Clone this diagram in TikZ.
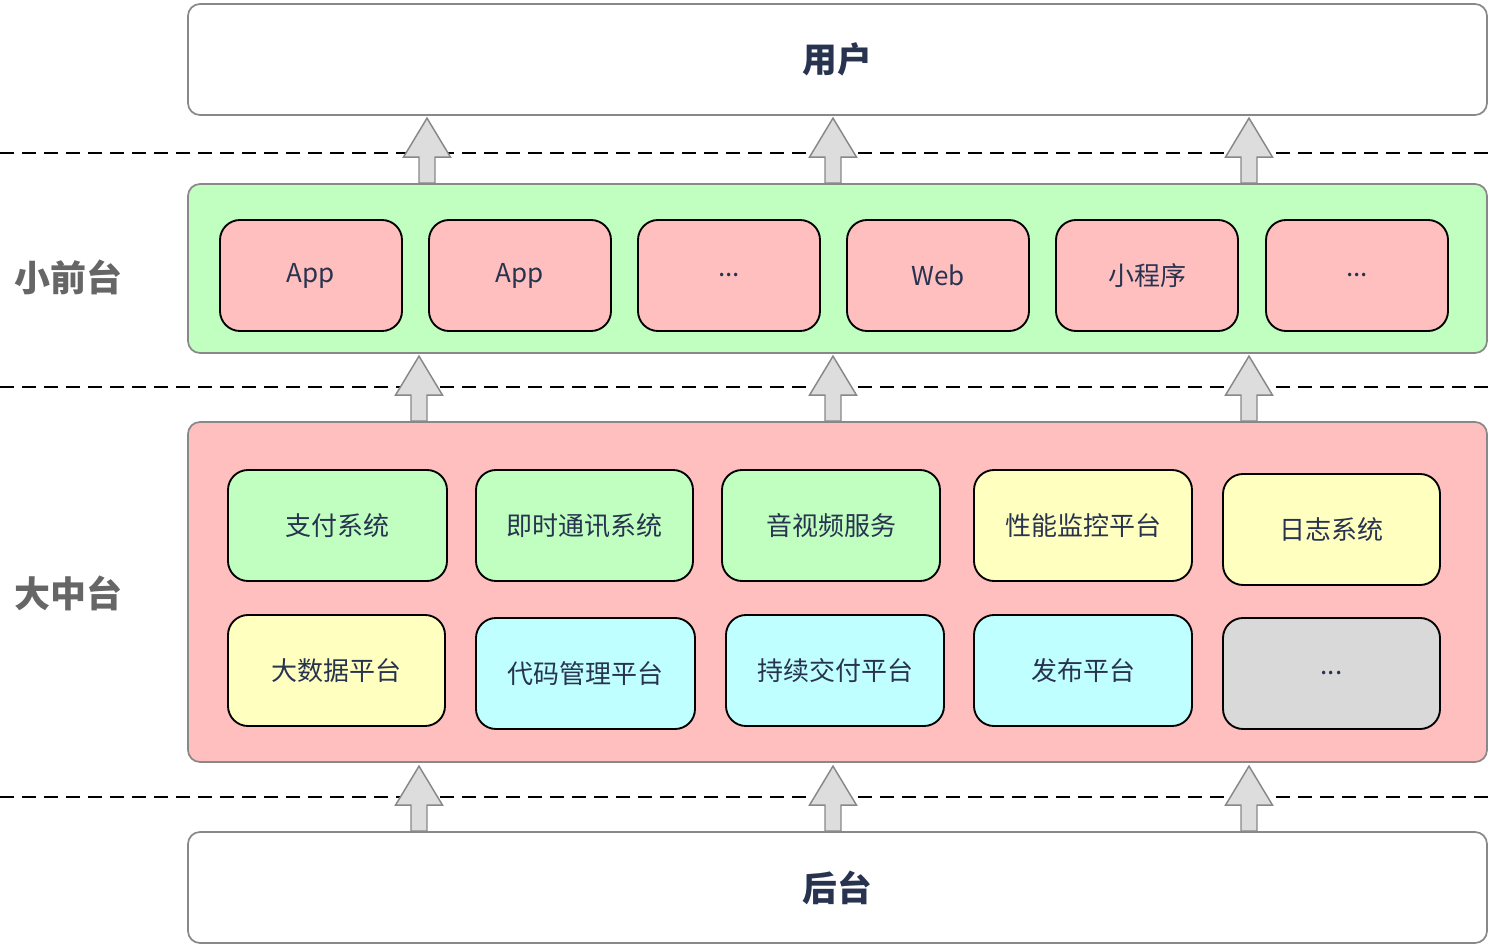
\documentclass[tikz,border=0pt]{standalone}
\usepackage{fontspec}
\setmainfont{Noto Sans CJK SC}
\usepackage{tikz}
\usetikzlibrary{positioning}

\definecolor{txtnavy}{RGB}{40,51,80}
\definecolor{boxgreen}{RGB}{192,255,192}
\definecolor{boxpink}{RGB}{255,191,191}
\definecolor{boxcyan}{RGB}{192,255,255}
\definecolor{boxyellow}{RGB}{255,255,192}
\definecolor{boxgray}{RGB}{217,217,217}
\definecolor{rimgray}{RGB}{136,136,136}
\definecolor{arrgray}{RGB}{221,221,221}

\begin{document}
\begin{tikzpicture}[x=0.75pt,y=0.75pt,yscale=-1,xscale=1,
    layer/.style={draw=rimgray,line width=1.3pt,rounded corners=9pt,minimum width=974.25pt,inner sep=0pt,text=txtnavy,font=\fontsize{26}{30}\selectfont\bfseries},
    item/.style={draw=black,line width=1.4pt,rounded corners=15pt,minimum height=83.25pt,inner sep=0pt,text=txtnavy,font=\fontsize{19.5}{23}\selectfont},
    sideLabel/.style={text=black!60,font=\fontsize{27}{31}\selectfont\bfseries,inner sep=0pt},
    sepline/.style={dashed,dash pattern=on 10.5pt off 6pt,line width=1.1pt},
    pics/uparr/.style={code={
        \draw[draw=rimgray,fill=arrgray,line width=1.1pt,line join=miter]
          (-8,0) -- (-8,26) -- (-23.5,26) -- (0,65) -- (23.5,26) -- (8,26) -- (8,0) -- cycle;
    }}]
    \useasboundingbox (0,0) rectangle (1489,945);

    %Shape: Layers
    \node[layer,fill=white,minimum height=83.25pt] (user) at (837.5,59.5) {用户};
    \node[layer,fill=boxgreen,minimum height=126.75pt] (front) at (837.5,268.5) {};
    \node[layer,fill=boxpink,minimum height=255pt] (middle) at (837.5,592) {};
    \node[layer,fill=white,minimum height=83.25pt] (back) at (837.5,887.5) {后台};

    % Text Node
    \node[sideLabel] (lblfront) at (68,277) {小前台};
    % Text Node
    \node[sideLabel] (lblmiddle) at (68,593) {大中台};

    %Shape: Front items
    \node[item,fill=boxpink,minimum width=136.5pt] (app1) at (311,275.5) {App};
    \node[item,fill=boxpink,minimum width=136.5pt] (app2) at (520,275.5) {App};
    \node[item,fill=boxpink,minimum width=136.5pt] (dots1) at (729,275.5) {...};
    \node[item,fill=boxpink,minimum width=136.5pt] (web) at (938,275.5) {Web};
    \node[item,fill=boxpink,minimum width=136.5pt] (mini) at (1147,275.5) {小程序};
    \node[item,fill=boxpink,minimum width=136.5pt] (dots2) at (1357,275.5) {...};

    %Shape: Middle items
    \node[item,fill=boxgreen,minimum width=164.25pt] (pay) at (337.5,525.5) {支付系统};
    \node[item,fill=boxgreen,minimum width=162.75pt] (im) at (584.5,525.5) {即时通讯系统};
    \node[item,fill=boxgreen,minimum width=163.5pt] (av) at (831,525.5) {音视频服务};
    \node[item,fill=boxyellow,minimum width=163.5pt] (perf) at (1083,525.5) {性能监控平台};
    \node[item,fill=boxyellow,minimum width=162.75pt] (log) at (1331.5,529.5) {日志系统};
    \node[item,fill=boxyellow,minimum width=162.75pt] (bigdata) at (336.5,670.5) {大数据平台};
    \node[item,fill=boxcyan,minimum width=164.25pt] (code) at (585.5,673.5) {代码管理平台};
    \node[item,fill=boxcyan,minimum width=163.5pt] (cd) at (835,670.5) {持续交付平台};
    \node[item,fill=boxcyan,minimum width=163.5pt] (release) at (1083,670.5) {发布平台};
    \node[item,fill=boxgray,minimum width=162.75pt] (dots3) at (1331.5,673.5) {...};

    %Straight Lines
    \draw[sepline] (0,153) -- (1489,153);
    \draw[sepline] (0,387) -- (1489,387);
    \draw[sepline] (0,797) -- (1489,797);

    %Shape: Up arrows
    \pic at (front.north -| 427,0) {uparr};
    \pic at (front.north -| 833,0) {uparr};
    \pic at (front.north -| 1249,0) {uparr};
    \pic at (middle.north -| 419,0) {uparr};
    \pic at (middle.north -| 833,0) {uparr};
    \pic at (middle.north -| 1249,0) {uparr};
    \pic at (back.north -| 419,0) {uparr};
    \pic at (back.north -| 833,0) {uparr};
    \pic at (back.north -| 1249,0) {uparr};
\end{tikzpicture}
\end{document}
